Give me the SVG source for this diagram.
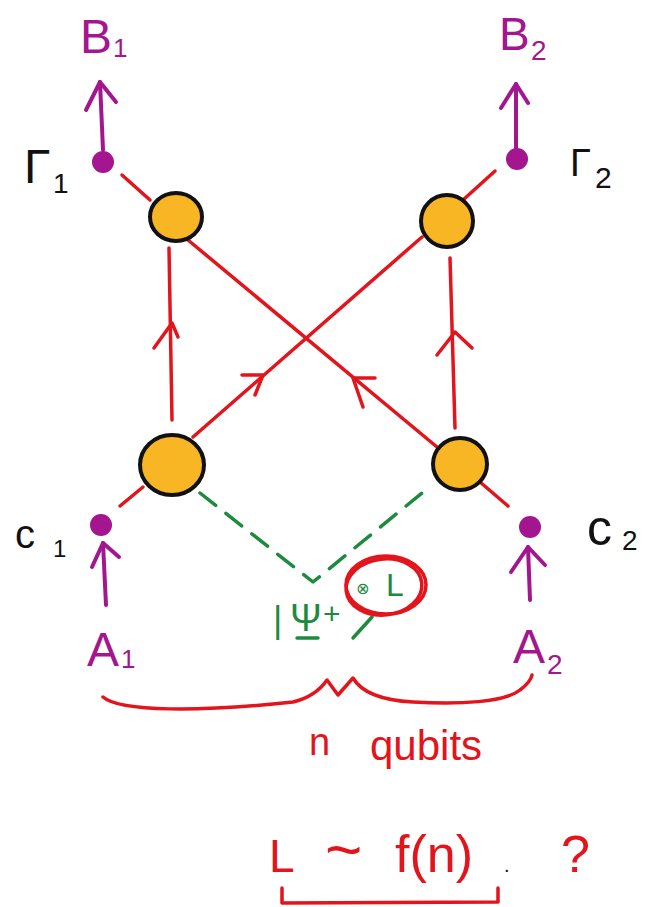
<svg xmlns="http://www.w3.org/2000/svg" width="646" height="907" viewBox="0 0 646 907">
<style>
.node{fill:#f8b524;stroke:#111;stroke-width:4}
.dot{fill:#a3168f}
.red{fill:none;stroke:#e3141c;stroke-width:3.5;stroke-linecap:round;stroke-linejoin:round}
.pur{fill:none;stroke:#a3168f;stroke-width:4;stroke-linecap:round;stroke-linejoin:round}
.grn{fill:none;stroke:#1d8a3e;stroke-width:3.5;stroke-linecap:round;stroke-linejoin:round}
.dash{stroke-dasharray:20 13}
text{font-family:"Liberation Sans","DejaVu Sans",sans-serif}
.pt{fill:#a3168f}
.bt{fill:#111}
.rt{fill:#e3141c}
.gt{fill:#1d8a3e}
</style>
<rect width="646" height="907" fill="#fff"/>
<g id="connectors">
  <path class="red" d="M122,175 L150,200"/>
  <path class="red" d="M495,171 L463,200"/>
  <path class="red" d="M120,506 L143,487"/>
  <path class="red" d="M480,482 L508,506"/>
  <path class="red" d="M172,420 L169,248"/>
  <path class="red" d="M154,348 L172,323 L178,337"/>
  <path class="red" d="M455,428 L450,258"/>
  <path class="red" d="M437,355 L455,332 L472,348"/>
  <path class="red" d="M188,240 L437,447"/>
  <path class="red" d="M375,378 L353,378 L363,407"/>
  <path class="red" d="M193,437 L422,237"/>
  <path class="red" d="M242,375 L263,375 L255,395"/>
  <path class="pur" d="M103,150 L100,82"/>
  <path class="pur" d="M86,110 L100,82 L116,102"/>
  <path class="pur" d="M516,148 L516,84"/>
  <path class="pur" d="M501,108 L516,84 L528,103"/>
  <path class="pur" d="M106,605 L103,543"/>
  <path class="pur" d="M92,567 L103,543 L119,557"/>
  <path class="pur" d="M530,600 L528,547"/>
  <path class="pur" d="M511,572 L528,547 L545,565"/>
  <path class="grn dash" d="M200,493 L313,582 L422,493"/>
</g>
<g id="node-tl"><ellipse class="node" cx="176" cy="217" rx="26" ry="24"/></g>
<g id="node-tr"><ellipse class="node" cx="447" cy="221" rx="26" ry="26"/></g>
<g id="node-bl"><ellipse class="node" cx="172" cy="465" rx="32" ry="30"/></g>
<g id="node-br"><ellipse class="node" cx="460" cy="464" rx="27" ry="26"/></g>
<g id="dot-g1"><circle class="dot" cx="103" cy="162" r="11"/></g>
<g id="dot-g2"><circle class="dot" cx="517" cy="159" r="11"/></g>
<g id="dot-c1"><circle class="dot" cx="101" cy="525" r="11"/></g>
<g id="dot-c2"><circle class="dot" cx="530" cy="527" r="11"/></g>
<g id="label-b1"><text class="pt" x="80" y="53" font-size="48">B</text><text class="pt" x="113" y="57" font-size="26">1</text></g>
<g id="label-b2"><text class="pt" x="499" y="50" font-size="46">B</text><text class="pt" x="531" y="60" font-size="28">2</text></g>
<g id="label-g1"><text class="bt" x="24" y="183" font-size="48">Γ</text><text class="bt" x="53" y="193" font-size="28">1</text></g>
<g id="label-g2"><text class="bt" x="570" y="176" font-size="38">Γ</text><text class="bt" x="595" y="188" font-size="30">2</text></g>
<g id="label-c1"><text class="bt" x="15" y="548" font-size="40">c</text><text class="bt" x="53" y="557" font-size="24">1</text></g>
<g id="label-c2"><text class="bt" x="587" y="545" font-size="50">c</text><text class="bt" x="622" y="550" font-size="28">2</text></g>
<g id="label-a1"><text class="pt" x="87" y="666" font-size="48">A</text><text class="pt" x="121" y="668" font-size="26">1</text></g>
<g id="label-a2"><text class="pt" x="513" y="663" font-size="48">A</text><text class="pt" x="547" y="674" font-size="28">2</text></g>
<g id="state">
  <text class="gt" x="273" y="632" font-size="36">|</text>
  <text class="gt" x="290" y="631" font-size="38">Ψ</text>
  <path class="grn" d="M297,638 L318,638"/>
  <text class="gt" x="323" y="624" font-size="30">+</text>
  <path class="grn" d="M353,638 L372,617"/>
  <text class="gt" x="356" y="594" font-size="16">⊗</text>
  <text class="gt" x="386" y="596" font-size="32">L</text>
  <ellipse class="red" cx="386" cy="585" rx="40" ry="29"/>
  <ellipse class="red" cx="384" cy="587" rx="38" ry="28" transform="rotate(-6 384 587)"/>
</g>
<g id="brace">
  <path class="red" d="M103,697 C120,712 200,712 293,702 C310,698 320,690 327,680 L338,695 L353,678 C360,690 375,700 413,702 C460,705 505,702 520,690 C528,684 531,680 532,675"/>
  <text class="rt" x="309" y="755" font-size="38">n</text>
  <text class="rt" x="370" y="760" font-size="42">qubits</text>
</g>
<g id="formula">
  <text class="rt" x="269" y="872" font-size="46">L</text>
  <text class="rt" x="325" y="872" font-size="64">~</text>
  <text class="rt" x="395" y="872" font-size="52">f(n)</text>
  <text class="bt" x="504" y="872" font-size="20">.</text>
  <text class="rt" x="561" y="872" font-size="52">?</text>
  <path class="red" d="M282,888 L282,903 L498,902 L498,888"/>
</g>
</svg>
